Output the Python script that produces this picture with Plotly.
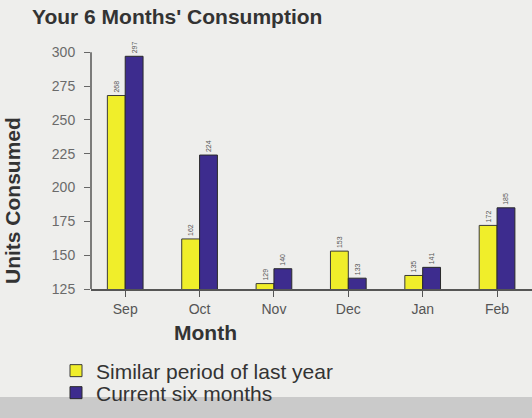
import plotly.graph_objects as go

months = ["Sep", "Oct", "Nov", "Dec", "Jan", "Feb"]
last_year = [268, 162, 129, 153, 135, 172]
current = [297, 224, 140, 133, 141, 185]
y_ticks = [125, 150, 175, 200, 225, 250, 275, 300]

FONT = "Liberation Sans, Arial, sans-serif"
BG = "#eeeeec"

fig = go.Figure()
fig.add_trace(go.Bar(
    x=months, y=last_year, name="Similar period of last year",
    marker=dict(color="#f0ee2a", line=dict(color="#3a3a3a", width=1)),
    text=last_year, textposition="outside", textangle=-90,
    textfont=dict(size=7, color="#555555", family=FONT),
    cliponaxis=True, legend="legend",
))
fig.add_trace(go.Bar(
    x=months, y=current, name="Current six months",
    marker=dict(color="#3d2c8e", line=dict(color="#2a2a2a", width=1)),
    text=current, textposition="outside", textangle=-90,
    textfont=dict(size=7, color="#555555", family=FONT),
    cliponaxis=True, legend="legend2",
))

fig.update_layout(
    width=532, height=418,
    margin=dict(l=91, r=0, t=36, b=129, autoexpand=False),
    paper_bgcolor=BG, plot_bgcolor=BG,
    font=dict(family=FONT, color="#444444"),
    barmode="group", bargap=0.52, bargroupgap=0.0,
    showlegend=True,
    title=dict(text="<b>Your 6 Months' Consumption</b>", xref="container", x=32/532,
               xanchor="left", yref="container", y=1-17/418, yanchor="middle",
               font=dict(size=21, color="#333333", family=FONT)),
    xaxis=dict(range=[-0.46, 5.47], showline=True, linecolor="#555555", linewidth=1.5,
               ticks="outside", ticklen=6, tickcolor="#555555", automargin=False,
               tickfont=dict(size=14, color="#555555"), showgrid=False, zeroline=False),
    yaxis=dict(range=[125, 312], tickvals=y_ticks, showline=False, automargin=False,
               ticks="outside", ticklen=6, tickcolor="#666666", ticklabelstandoff=6,
               tickfont=dict(size=14, color="#6a6a6a"), showgrid=False, zeroline=False),
    legend=dict(xref="container", yref="container", x=56/532, y=1-371/418,
                xanchor="left", yanchor="middle", bgcolor="rgba(0,0,0,0)",
                font=dict(size=21, color="#333333", family=FONT)),
    legend2=dict(xref="container", yref="container", x=56/532, y=1-393/418,
                 xanchor="left", yanchor="middle", bgcolor="rgba(0,0,0,0)",
                 font=dict(size=21, color="#333333", family=FONT)),
    shapes=[
        dict(type="line", xref="paper", yref="y", x0=0, x1=0, y0=125, y1=300,
             line=dict(color="#555555", width=1.5)),
        dict(type="rect", xref="paper", yref="paper", x0=-0.21, x1=1.0,
             y0=-0.52, y1=-0.427, layer="below", line=dict(width=0),
             fillcolor="#cacaca"),
    ],
    annotations=[
        dict(text="<b>Units Consumed</b>", xref="paper", yref="paper",
             x=(12-91)/441, y=(289-201)/253, textangle=-90, showarrow=False,
             xanchor="center", yanchor="middle",
             font=dict(size=21, color="#333333", family=FONT)),
        dict(text="<b>Month</b>", xref="paper", yref="paper",
             x=(205-91)/441, y=(289-333)/253, showarrow=False,
             xanchor="center", yanchor="middle",
             font=dict(size=21, color="#333333", family=FONT)),
    ],
)

fig.write_html("out.html", config={"displayModeBar": False},
               post_script="document.body.style.margin='0';")
